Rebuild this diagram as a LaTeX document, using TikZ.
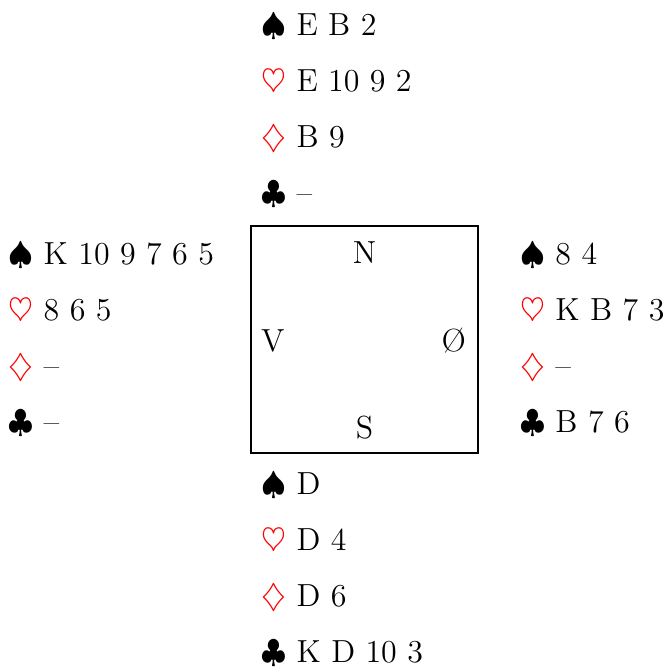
\documentclass[tikz,border=0pt]{standalone}
\usepackage{amsmath}
\usepackage{tikz}
\usetikzlibrary{positioning, calc}

\tikzset{
  linha/.style={anchor=base west, inner sep=0pt, font=\large},
  vento/.style={anchor=base, inner sep=0pt, font=\large},
}

\newcommand{\mao}[7]{%
  % #1 = nome, #2 = x, #3 = y (linha base), #4..#7 = espadas, copas, ouros, paus
  \node[linha] (#1-s) at (#2, #3) {$\spadesuit$ #4};
  \node[linha] (#1-h) at ($(#1-s.base west)+(0,-0.74)$) {\textcolor{red}{$\heartsuit$} #5};
  \node[linha] (#1-d) at ($(#1-h.base west)+(0,-0.74)$) {\textcolor{red}{$\diamondsuit$} #6};
  \node[linha] (#1-c) at ($(#1-d.base west)+(0,-0.74)$) {$\clubsuit$ #7};
}

\begin{document}
\begin{tikzpicture}
    \useasboundingbox (-4.815, -4.313) rectangle (4.022, 4.485);

    % mesa
    \node[draw, thick, minimum size=3cm, inner sep=0pt] (mesa) at (0, 0) {};
    \node[vento] (N) at (0, 1.005) {N};
    \node[vento] (S) at (0, -1.31) {S};
    \node[vento] (V) at (-1.21, -0.157) {V};
    \node[vento] (O) at (1.18, -0.157) {\O};

    % maos
    \mao{nord}{-1.37}{4.02}{E B 2}{E 10 9 2}{B 9}{--}
    \mao{vest}{-4.71}{0.99}{K 10 9 7 6 5}{8 6 5}{--}{--}
    \mao{ost}{2.05}{0.99}{8 4}{K B 7 3}{--}{B 7 6}
    \mao{syd}{-1.37}{-2.05}{D}{D 4}{D 6}{K D 10 3}

\end{tikzpicture}
\end{document}
